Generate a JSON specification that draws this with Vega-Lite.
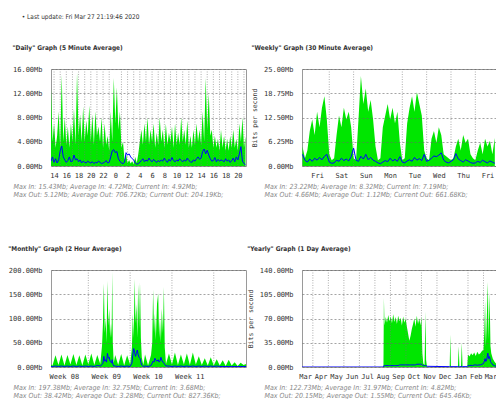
{
  "$schema": "https://vega.github.io/schema/vega-lite/v6.json",
  "background": "white",
  "padding": {"left": 7, "top": 13, "right": 6, "bottom": 0},
  "bounds": "flush",
  "columns": 2,
  "spacing": {"row": 104, "column": 56},
  "title": {"text": "•  Last update: Fri Mar 27 21:19:46 2020", "anchor": "start", "frame": "bounds", "dx": 14, "fontSize": 6.5, "fontWeight": "normal", "font": "Liberation Sans Narrow, DejaVu Sans Condensed, sans-serif", "color": "#333", "offset": 24},
  "config": {
    "view": {"stroke": "#9a9a9a", "strokeWidth": 1},
    "axis": {"labelFont": "DejaVu Sans Mono", "labelFontSize": 7, "labelColor": "#333", "labelOverlap": false, "labelBound": false, "labelFlush": false, "ticks": false, "domain": false, "titleFont": "Liberation Sans Narrow, DejaVu Sans Condensed, sans-serif", "titleFontSize": 7, "titleFontStyle": "italic", "titleFontWeight": "normal", "titleColor": "#888", "titleLineHeight": 8},
    "title": {"font": "Liberation Sans Narrow, DejaVu Sans Condensed, sans-serif", "fontSize": 6.5, "fontWeight": "bold", "color": "#333", "anchor": "start", "frame": "bounds", "offset": 14}
  },
  "datasets": {
    "daily": [
      {"x":13.5,"in":12.9,"out":0.8},{"x":13.75,"in":4,"out":1.5},{"x":14,"in":7.0,"out":0.6},{"x":14.25,"in":3,"out":1.2},{"x":14.5,"in":5,"out":0.5},{"x":14.75,"in":9.0,"out":1.0},
      {"x":15,"in":3,"out":2.5},{"x":15.25,"in":15.0,"out":3.3},{"x":15.5,"in":4,"out":1.5},{"x":15.75,"in":8.0,"out":1.0},
      {"x":16,"in":3.5,"out":0.6},{"x":16.25,"in":6.5,"out":0.9},{"x":16.5,"in":3,"out":1.5},{"x":16.75,"in":7.0,"out":0.7},
      {"x":17,"in":4,"out":0.8},{"x":17.25,"in":9.5,"out":1.8},{"x":17.5,"in":3.5,"out":1.0},{"x":17.75,"in":15.4,"out":1.2},
      {"x":18,"in":5,"out":0.7},{"x":18.25,"in":8.5,"out":1.0},{"x":18.5,"in":4,"out":0.5},{"x":18.75,"in":9.8,"out":0.8},
      {"x":19,"in":4,"out":0.6},{"x":19.25,"in":7.5,"out":0.5},{"x":19.5,"in":5,"out":0.8},{"x":19.75,"in":10.0,"out":0.6},
      {"x":20,"in":4,"out":0.5},{"x":20.25,"in":8.5,"out":0.7},{"x":20.5,"in":3.5,"out":0.4},{"x":20.75,"in":9.0,"out":0.6},
      {"x":21,"in":5,"out":0.5},{"x":21.25,"in":6.5,"out":0.8},{"x":21.5,"in":4,"out":0.6},{"x":21.75,"in":8.0,"out":0.4},
      {"x":22,"in":3,"out":0.5},{"x":22.25,"in":7.0,"out":0.6},{"x":22.5,"in":3.5,"out":0.9},{"x":22.75,"in":5.0,"out":0.5},
      {"x":23,"in":2.5,"out":0.6},{"x":23.25,"in":9.0,"out":1.5},{"x":23.5,"in":4,"out":2.5},{"x":23.75,"in":14.5,"out":2.7},
      {"x":24,"in":7,"out":2.2},{"x":24.25,"in":13.0,"out":2.4},{"x":24.5,"in":6,"out":1.2},{"x":24.75,"in":9.0,"out":0.8},
      {"x":25,"in":3,"out":0.5},{"x":25.25,"in":4.0,"out":0.4},{"x":25.5,"in":1.0,"out":0.6},{"x":25.75,"in":2.0,"out":2.2},
      {"x":26,"in":0.5,"out":1.8},{"x":26.25,"in":1.0,"out":2.0},{"x":26.5,"in":0.4,"out":1.5},{"x":26.75,"in":0.8,"out":1.2},
      {"x":27,"in":0.3,"out":1.0},{"x":27.25,"in":1.5,"out":0.5},{"x":27.5,"in":0.5,"out":0.3},{"x":27.75,"in":2,"out":0.4},
      {"x":28,"in":4.0,"out":0.6},{"x":28.25,"in":6.0,"out":0.9},{"x":28.5,"in":3.5,"out":1.2},{"x":28.75,"in":7.0,"out":0.7},
      {"x":29,"in":4,"out":1.0},{"x":29.25,"in":8.0,"out":0.8},{"x":29.5,"in":3.5,"out":1.3},{"x":29.75,"in":6.0,"out":0.9},
      {"x":30,"in":4,"out":0.7},{"x":30.25,"in":7.0,"out":1.1},{"x":30.5,"in":3,"out":0.8},{"x":30.75,"in":5.5,"out":0.6},
      {"x":31,"in":3.5,"out":0.9},{"x":31.25,"in":8.0,"out":0.7},{"x":31.5,"in":4,"out":1.0},{"x":31.75,"in":6.0,"out":0.8},
      {"x":32,"in":3,"out":1.3},{"x":32.25,"in":7.0,"out":0.9},{"x":32.5,"in":3.5,"out":0.6},{"x":32.75,"in":5.5,"out":1.1},
      {"x":33,"in":4,"out":0.8},{"x":33.25,"in":6.5,"out":1.4},{"x":33.5,"in":3,"out":0.9},{"x":33.75,"in":7.0,"out":0.7},
      {"x":34,"in":3.5,"out":1.0},{"x":34.25,"in":5.5,"out":0.8},{"x":34.5,"in":3.5,"out":1.2},{"x":34.75,"in":8.0,"out":0.9},
      {"x":35,"in":4,"out":0.7},{"x":35.25,"in":6.0,"out":1.0},{"x":35.5,"in":3.5,"out":0.8},{"x":35.75,"in":7.5,"out":1.3},
      {"x":36,"in":3,"out":0.9},{"x":36.25,"in":5,"out":0.7},{"x":36.5,"in":3,"out":0.6},{"x":36.75,"in":6.0,"out":1.0},
      {"x":37,"in":3.5,"out":0.8},{"x":37.25,"in":7.0,"out":1.2},{"x":37.5,"in":4,"out":1.5},{"x":37.75,"in":6.0,"out":1.1},
      {"x":38,"in":3.5,"out":1.3},{"x":38.25,"in":9.0,"out":2.4},{"x":38.5,"in":4,"out":2.8},{"x":38.75,"in":14.5,"out":2.0},
      {"x":39,"in":6,"out":2.6},{"x":39.25,"in":12.0,"out":1.8},{"x":39.5,"in":5,"out":1.2},{"x":39.75,"in":6.0,"out":0.8},
      {"x":40,"in":3,"out":0.9},{"x":40.25,"in":5.0,"out":1.4},{"x":40.5,"in":3,"out":0.7},{"x":40.75,"in":4.5,"out":1.1},
      {"x":41,"in":2.5,"out":0.8},{"x":41.25,"in":6.0,"out":1.0},{"x":41.5,"in":3,"out":0.9},{"x":41.75,"in":5.0,"out":0.7},
      {"x":42,"in":2.5,"out":1.2},{"x":42.25,"in":4.5,"out":0.8},{"x":42.5,"in":2.5,"out":1.0},{"x":42.75,"in":5.0,"out":0.6},
      {"x":43,"in":3,"out":0.9},{"x":43.25,"in":6.0,"out":1.3},{"x":43.5,"in":3,"out":0.7},{"x":43.75,"in":4.5,"out":1.5},
      {"x":44,"in":2.5,"out":1.0},{"x":44.25,"in":7.0,"out":2.0},{"x":44.5,"in":4,"out":3.2},{"x":44.75,"in":8.0,"out":0.8},
      {"x":45,"in":3,"out":0.4},{"x":45.25,"in":4.9,"out":0.2}
    ],
    "dailyGrid": [{"g":14},{"g":15},{"g":16},{"g":17},{"g":18},{"g":19},{"g":20},{"g":21},{"g":22},{"g":23},{"g":25},{"g":26},{"g":27},{"g":28},{"g":29},{"g":30},{"g":31},{"g":32},{"g":33},{"g":34},{"g":35},{"g":36},{"g":37},{"g":38},{"g":39},{"g":40},{"g":41},{"g":42},{"g":43},{"g":44},{"g":45}],
    "weekly": [
      {"x":0.9,"in":5,"out":3.0},{"x":1.0,"in":2,"out":1.5},{"x":1.1,"in":4,"out":1.0},{"x":1.2,"in":9,"out":1.8},{"x":1.3,"in":12,"out":1.2},{"x":1.4,"in":8,"out":2.0},{"x":1.5,"in":14,"out":1.5},{"x":1.6,"in":10,"out":2.2},{"x":1.7,"in":15,"out":1.6},{"x":1.8,"in":18,"out":2.5},{"x":1.9,"in":12,"out":3.0},
      {"x":2.0,"in":3,"out":1.0},{"x":2.1,"in":1.5,"out":0.7},{"x":2.2,"in":2,"out":0.8},{"x":2.3,"in":8,"out":1.5},{"x":2.4,"in":13,"out":1.2},{"x":2.5,"in":10,"out":2.0},{"x":2.6,"in":15,"out":1.4},{"x":2.7,"in":12,"out":1.8},{"x":2.8,"in":14,"out":1.3},{"x":2.9,"in":10,"out":2.4},
      {"x":3.0,"in":2,"out":4.6},{"x":3.1,"in":1.5,"out":1.5},{"x":3.2,"in":12,"out":1.2},{"x":3.3,"in":23.2,"out":2.5},{"x":3.4,"in":16,"out":1.8},{"x":3.5,"in":20,"out":3.0},{"x":3.6,"in":14,"out":1.6},{"x":3.7,"in":17,"out":2.2},{"x":3.8,"in":12,"out":1.5},{"x":3.9,"in":5,"out":1.2},
      {"x":4.0,"in":1.5,"out":0.8},{"x":4.1,"in":2,"out":0.6},{"x":4.2,"in":10,"out":1.0},{"x":4.3,"in":13,"out":1.4},{"x":4.4,"in":16,"out":1.1},{"x":4.5,"in":12,"out":2.0},{"x":4.6,"in":15,"out":1.3},{"x":4.7,"in":11,"out":1.7},{"x":4.8,"in":14,"out":1.2},{"x":4.9,"in":6,"out":2.4},
      {"x":5.0,"in":1.5,"out":1.0},{"x":5.1,"in":2,"out":0.8},{"x":5.2,"in":11,"out":1.3},{"x":5.3,"in":15,"out":1.6},{"x":5.4,"in":18,"out":1.2},{"x":5.5,"in":14,"out":2.2},{"x":5.6,"in":19,"out":1.5},{"x":5.7,"in":16,"out":1.9},{"x":5.8,"in":13,"out":1.4},{"x":5.9,"in":4,"out":3.0},
      {"x":6.0,"in":2,"out":1.2},{"x":6.1,"in":1.5,"out":1.5},{"x":6.2,"in":7,"out":2.0},{"x":6.3,"in":9,"out":2.6},{"x":6.4,"in":6,"out":2.4},{"x":6.5,"in":10,"out":2.8},{"x":6.6,"in":8,"out":3.4},{"x":6.7,"in":3,"out":1.5},{"x":6.8,"in":2.5,"out":1.0},{"x":6.9,"in":2,"out":0.8},
      {"x":7.0,"in":1.5,"out":1.2},{"x":7.1,"in":2,"out":1.6},{"x":7.2,"in":5,"out":3.2},{"x":7.3,"in":7,"out":1.8},{"x":7.4,"in":4,"out":1.4},{"x":7.5,"in":8,"out":1.0},{"x":7.6,"in":6,"out":1.6},{"x":7.7,"in":7,"out":1.3},{"x":7.8,"in":3,"out":0.9},{"x":7.9,"in":2,"out":0.7},
      {"x":8.0,"in":1.5,"out":0.8},{"x":8.1,"in":4,"out":1.2},{"x":8.2,"in":6,"out":0.9},{"x":8.3,"in":3,"out":1.5},{"x":8.4,"in":7,"out":1.1},{"x":8.5,"in":5,"out":0.8},{"x":8.6,"in":6.5,"out":1.3},{"x":8.7,"in":3,"out":1.0},{"x":8.8,"in":7.2,"out":0.7}
    ],
    "weeklyGrid": [{"g":2},{"g":3},{"g":5},{"g":6},{"g":7},{"g":8}],
    "monthly": [
      {"x":-5.25,"in":5,"out":1},{"x":-5.0,"in":3,"out":1},{"x":-4.5,"in":24,"out":2},{"x":-4.0,"in":4,"out":1},{"x":-3.5,"in":26,"out":2},{"x":-3.0,"in":3,"out":1},{"x":-2.5,"in":25,"out":2},{"x":-2.0,"in":5,"out":1},{"x":-1.5,"in":27,"out":2},{"x":-1.0,"in":4,"out":1},{"x":-0.5,"in":24,"out":2},
      {"x":0.0,"in":3,"out":1},{"x":0.5,"in":26,"out":2},{"x":1.0,"in":5,"out":1},{"x":1.5,"in":28,"out":2},{"x":2.0,"in":4,"out":1},{"x":2.5,"in":25,"out":3},{"x":3.0,"in":6,"out":2},
      {"x":3.3,"in":45,"out":5},{"x":3.45,"in":90,"out":8},{"x":3.6,"in":172,"out":22},{"x":3.75,"in":70,"out":12},{"x":3.9,"in":100,"out":15},{"x":4.05,"in":50,"out":10},{"x":4.2,"in":178,"out":28},{"x":4.35,"in":85,"out":18},{"x":4.5,"in":120,"out":20},{"x":4.65,"in":60,"out":12},{"x":4.8,"in":90,"out":10},{"x":4.9,"in":60,"out":8},{"x":5.0,"in":197,"out":15},{"x":5.1,"in":50,"out":6},{"x":5.25,"in":8,"out":2},
      {"x":5.5,"in":25,"out":2},{"x":6.0,"in":4,"out":1},{"x":6.5,"in":27,"out":2},{"x":7.0,"in":3,"out":1},{"x":7.5,"in":24,"out":2},{"x":8.0,"in":5,"out":1},
      {"x":8.3,"in":40,"out":8},{"x":8.45,"in":110,"out":25},{"x":8.6,"in":60,"out":38},{"x":8.75,"in":182,"out":30},{"x":8.9,"in":90,"out":22},{"x":9.05,"in":130,"out":28},{"x":9.2,"in":60,"out":35},{"x":9.35,"in":170,"out":25},{"x":9.5,"in":80,"out":20},{"x":9.65,"in":175,"out":18},{"x":9.8,"in":60,"out":10},{"x":9.95,"in":20,"out":4},
      {"x":10.2,"in":4,"out":1},{"x":10.5,"in":26,"out":2},{"x":11.0,"in":3,"out":1},{"x":11.5,"in":25,"out":3},
      {"x":11.7,"in":50,"out":8},{"x":11.85,"in":160,"out":12},{"x":12.0,"in":70,"out":10},{"x":12.15,"in":110,"out":18},{"x":12.3,"in":55,"out":14},{"x":12.5,"in":130,"out":12},{"x":12.7,"in":152,"out":15},{"x":12.85,"in":60,"out":10},{"x":13.0,"in":100,"out":12},{"x":13.15,"in":50,"out":20},{"x":13.3,"in":120,"out":14},{"x":13.5,"in":70,"out":10},{"x":13.65,"in":165,"out":8},{"x":13.8,"in":40,"out":5},
      {"x":14.0,"in":6,"out":2},{"x":14.5,"in":28,"out":2},{"x":15.0,"in":5,"out":1},{"x":15.5,"in":30,"out":2},{"x":16.0,"in":4,"out":1},{"x":16.5,"in":26,"out":2},{"x":17.0,"in":5,"out":1},{"x":17.5,"in":28,"out":2},{"x":18.0,"in":4,"out":1},{"x":18.5,"in":30,"out":2},{"x":19.0,"in":5,"out":1},{"x":19.5,"in":22,"out":2},{"x":20.0,"in":4,"out":1},{"x":20.5,"in":18,"out":2},{"x":21.0,"in":3,"out":1},{"x":21.5,"in":20,"out":2},{"x":22.0,"in":3,"out":1},{"x":22.5,"in":16,"out":2},{"x":23.0,"in":3,"out":1},{"x":23.5,"in":14,"out":1},{"x":24.0,"in":2,"out":1},{"x":24.5,"in":15,"out":1},{"x":25.0,"in":3,"out":1},{"x":25.5,"in":10,"out":1},{"x":26.0,"in":2,"out":1},{"x":26.5,"in":9,"out":1},{"x":27.0,"in":4,"out":1},{"x":27.4,"in":6,"out":1}
    ],
    "monthlyGrid": [{"g":1},{"g":8},{"g":15},{"g":22}],
    "yearly": [
      {"x":2.3,"in":0,"out":0},{"x":7.55,"in":0,"out":0},{"x":7.58,"in":100,"out":2},{"x":7.62,"in":60,"out":2},{"x":7.7,"in":72,"out":2},{"x":7.78,"in":64,"out":2},{"x":7.86,"in":75,"out":2},{"x":7.94,"in":66,"out":2},
      {"x":8.02,"in":73,"out":2},{"x":8.1,"in":63,"out":2},{"x":8.18,"in":76,"out":2},{"x":8.26,"in":65,"out":2},{"x":8.34,"in":72,"out":2},{"x":8.42,"in":62,"out":2},{"x":8.5,"in":74,"out":2},{"x":8.58,"in":66,"out":3},{"x":8.66,"in":71,"out":3},{"x":8.74,"in":60,"out":3},{"x":8.82,"in":73,"out":3},{"x":8.9,"in":64,"out":3},{"x":8.98,"in":70,"out":3},
      {"x":9.06,"in":58,"out":3},{"x":9.14,"in":48,"out":3},{"x":9.22,"in":38,"out":3},{"x":9.3,"in":45,"out":3},{"x":9.38,"in":55,"out":3},{"x":9.46,"in":62,"out":3},{"x":9.54,"in":70,"out":3},{"x":9.62,"in":58,"out":3},{"x":9.7,"in":74,"out":4},{"x":9.78,"in":62,"out":4},{"x":9.86,"in":70,"out":4},{"x":9.94,"in":60,"out":4},
      {"x":10.0,"in":73,"out":4},{"x":10.06,"in":20,"out":3},{"x":10.12,"in":5,"out":2},{"x":10.2,"in":3,"out":2},{"x":10.26,"in":80,"out":2},{"x":10.3,"in":10,"out":2},{"x":10.36,"in":0,"out":1},
      {"x":11.82,"in":0,"out":0.5},{"x":11.86,"in":47,"out":1},{"x":11.9,"in":0,"out":0.5},{"x":12.35,"in":0,"out":0.5},{"x":12.4,"in":30,"out":1},{"x":12.45,"in":0,"out":0.5},{"x":12.55,"in":0,"out":0.5},{"x":12.6,"in":35,"out":1},{"x":12.65,"in":0,"out":0.5},{"x":12.95,"in":0,"out":0.5},
      {"x":13.0,"in":18,"out":2},{"x":13.1,"in":15,"out":2},{"x":13.2,"in":20,"out":2.5},{"x":13.3,"in":17,"out":2},{"x":13.4,"in":21,"out":3},{"x":13.5,"in":16,"out":3},{"x":13.6,"in":22,"out":2.5},{"x":13.7,"in":18,"out":3},{"x":13.8,"in":20,"out":3},{"x":13.9,"in":23,"out":4},
      {"x":14.0,"in":25,"out":5},{"x":14.05,"in":50,"out":8},{"x":14.1,"in":95,"out":12},{"x":14.15,"in":30,"out":8},{"x":14.2,"in":60,"out":10},{"x":14.28,"in":122.7,"out":20},{"x":14.33,"in":40,"out":12},{"x":14.39,"in":108,"out":15},{"x":14.45,"in":30,"out":8},{"x":14.5,"in":20,"out":6},{"x":14.6,"in":12,"out":3},{"x":14.7,"in":8,"out":2},{"x":14.8,"in":5,"out":1},{"x":14.87,"in":4.8,"out":0.6}
    ],
    "yearlyGrid": [{"g":3},{"g":4},{"g":5},{"g":6},{"g":7},{"g":8},{"g":9},{"g":10},{"g":11},{"g":13},{"g":14}]
  },
  "concat": [
    {
      "title": {"text": "\"Daily\" Graph (5 Minute Average)"},
      "width": 195, "height": 97,
      "layer": [
        {"data": {"name": "daily"}, "mark": {"type": "area", "color": "#00e600", "clip": true},
         "encoding": {
           "x": {"field": "x", "type": "quantitative", "scale": {"domain": [13.5, 45.33], "nice": false, "zero": false},
                 "axis": {"values": [14,16,18,20,22,24,26,28,30,32,34,36,38,40,42,44], "tickCount": 100, "labelExpr": "datum.value % 24", "labelOverlap": false, "grid": false, "labelPadding": 5,
                          "title": ["Max In: 15.43Mb; Average In: 4.72Mb; Current In: 4.92Mb;", "Max Out: 5.12Mb; Average Out: 706.72Kb; Current Out: 204.19Kb;"],
                          "titleX": -38, "titleY": 16, "titleAlign": "left", "titleBaseline": "top", "titleAnchor": "start"}},
           "y": {"field": "in", "type": "quantitative", "scale": {"domain": [0, 16], "nice": false},
                 "axis": {"values": [0,4,8,12,16], "tickCount": 100, "labelExpr": "format(datum.value, '.2f') + 'Mb'", "labelOverlap": false, "grid": true, "gridDash": [2,2], "gridColor": "#666", "gridWidth": 0.6, "labelPadding": 9, "title": null, "zindex": 1}}
         }},
        {"data": {"name": "dailyGrid"}, "mark": {"type": "rule", "color": "#777", "strokeDash": [1,1.5], "strokeWidth": 0.6}, "encoding": {"x": {"field": "g", "type": "quantitative"}}},
        {"data": {"name": "daily"}, "mark": {"type": "line", "color": "#0000ff", "strokeWidth": 1, "clip": true}, "encoding": {"x": {"field": "x", "type": "quantitative"}, "y": {"field": "out", "type": "quantitative"}}},
        {"mark": {"type": "rule", "color": "#ff0000", "strokeWidth": 1}, "encoding": {"x": {"datum": 24, "type": "quantitative"}}}
      ]
    },
    {
      "title": {"text": "\"Weekly\" Graph (30 Minute Average)"},
      "width": 195, "height": 97,
      "layer": [
        {"data": {"name": "weekly"}, "mark": {"type": "area", "color": "#00e600", "clip": true},
         "encoding": {
           "x": {"field": "x", "type": "quantitative", "scale": {"domain": [0.88, 8.89], "nice": false, "zero": false},
                 "axis": {"values": [1.5,2.5,3.5,4.5,5.5,6.5,7.5,8.5], "tickCount": 100, "labelExpr": "['Thu','Fri','Sat','Sun','Mon','Tue','Wed','Thu','Fri'][floor(datum.value)]", "labelOverlap": false, "grid": false, "labelPadding": 5,
                          "title": ["Max In: 23.22Mb; Average In: 8.32Mb; Current In: 7.19Mb;", "Max Out: 4.66Mb; Average Out: 1.12Mb; Current Out: 661.68Kb;"],
                          "titleX": -38, "titleY": 16, "titleAlign": "left", "titleBaseline": "top", "titleAnchor": "start"}},
           "y": {"field": "in", "type": "quantitative", "scale": {"domain": [0, 25], "nice": false},
                 "axis": {"values": [0,6.25,12.5,18.75,25], "tickCount": 100, "labelExpr": "format(datum.value, '.2f') + 'Mb'", "labelOverlap": false, "grid": true, "gridDash": [2,2], "gridColor": "#666", "gridWidth": 0.6, "labelPadding": 9, "zindex": 1,
                          "title": "Bits per second", "titleFont": "DejaVu Sans Mono", "titleFontStyle": "normal", "titleFontSize": 6.5, "titleColor": "#333", "titlePadding": 6}}
         }},
        {"data": {"name": "weeklyGrid"}, "mark": {"type": "rule", "color": "#777", "strokeDash": [1,1.5], "strokeWidth": 0.6}, "encoding": {"x": {"field": "g", "type": "quantitative"}}},
        {"data": {"name": "weekly"}, "mark": {"type": "line", "color": "#0000ff", "strokeWidth": 1, "clip": true}, "encoding": {"x": {"field": "x", "type": "quantitative"}, "y": {"field": "out", "type": "quantitative"}}},
        {"mark": {"type": "rule", "color": "#ff0000", "strokeWidth": 1}, "encoding": {"x": {"datum": 4, "type": "quantitative"}}}
      ]
    },
    {
      "title": {"text": "\"Monthly\" Graph (2 Hour Average)"},
      "width": 195, "height": 97,
      "layer": [
        {"data": {"name": "monthly"}, "mark": {"type": "area", "color": "#00e600", "clip": true},
         "encoding": {
           "x": {"field": "x", "type": "quantitative", "scale": {"domain": [-5.25, 27.4], "nice": false, "zero": false},
                 "axis": {"values": [-3.1, 3.9, 10.9, 17.9], "tickCount": 100, "labelExpr": "datum.value < 0 ? 'Week 08' : datum.value < 7 ? 'Week 09' : datum.value < 14 ? 'Week 10' : 'Week 11'", "labelOverlap": false, "grid": false, "labelPadding": 5,
                          "title": ["Max In: 197.38Mb; Average In: 32.75Mb; Current In: 3.68Mb;", "Max Out: 38.42Mb; Average Out: 3.28Mb; Current Out: 827.36Kb;"],
                          "titleX": -38, "titleY": 16, "titleAlign": "left", "titleBaseline": "top", "titleAnchor": "start"}},
           "y": {"field": "in", "type": "quantitative", "scale": {"domain": [0, 200], "nice": false},
                 "axis": {"values": [0,50,100,150,200], "tickCount": 100, "labelExpr": "format(datum.value, '.2f') + 'Mb'", "labelOverlap": false, "grid": true, "gridDash": [2,2], "gridColor": "#666", "gridWidth": 0.6, "labelPadding": 9, "title": null, "zindex": 1}}
         }},
        {"data": {"name": "monthlyGrid"}, "mark": {"type": "rule", "color": "#777", "strokeDash": [1,1.5], "strokeWidth": 0.6}, "encoding": {"x": {"field": "g", "type": "quantitative"}}},
        {"data": {"name": "monthly"}, "mark": {"type": "line", "color": "#0000ff", "strokeWidth": 1, "clip": true}, "encoding": {"x": {"field": "x", "type": "quantitative"}, "y": {"field": "out", "type": "quantitative"}}},
        {"mark": {"type": "rule", "color": "#ff0000", "strokeWidth": 1}, "encoding": {"x": {"datum": 0, "type": "quantitative"}}}
      ]
    },
    {
      "title": {"text": "\"Yearly\" Graph (1 Day Average)"},
      "width": 195, "height": 97,
      "layer": [
        {"data": {"name": "yearly"}, "mark": {"type": "area", "color": "#00e600", "clip": true},
         "encoding": {
           "x": {"field": "x", "type": "quantitative", "scale": {"domain": [2.3, 14.87], "nice": false, "zero": false},
                 "axis": {"values": [2.5,3.5,4.5,5.5,6.5,7.5,8.5,9.5,10.5,11.5,12.5,13.5,14.45], "tickCount": 100, "labelExpr": "['Jan','Feb','Mar','Apr','May','Jun','Jul','Aug','Sep','Oct','Nov','Dec'][floor(datum.value) % 12]", "labelOverlap": false, "grid": false, "labelPadding": 5,
                          "title": ["Max In: 122.73Mb; Average In: 31.97Mb; Current In: 4.82Mb;", "Max Out: 20.15Mb; Average Out: 1.55Mb; Current Out: 645.46Kb;"],
                          "titleX": -38, "titleY": 16, "titleAlign": "left", "titleBaseline": "top", "titleAnchor": "start"}},
           "y": {"field": "in", "type": "quantitative", "scale": {"domain": [0, 140], "nice": false},
                 "axis": {"values": [0,35,70,105,140], "tickCount": 100, "labelExpr": "format(datum.value, '.2f') + 'Mb'", "labelOverlap": false, "grid": true, "gridDash": [2,2], "gridColor": "#666", "gridWidth": 0.6, "labelPadding": 9, "zindex": 1,
                          "title": "Bits per second", "titleFont": "DejaVu Sans Mono", "titleFontStyle": "normal", "titleFontSize": 6.5, "titleColor": "#333", "titlePadding": 6}}
         }},
        {"data": {"name": "yearlyGrid"}, "mark": {"type": "rule", "color": "#777", "strokeDash": [1,1.5], "strokeWidth": 0.6}, "encoding": {"x": {"field": "g", "type": "quantitative"}}},
        {"data": {"name": "yearly"}, "mark": {"type": "line", "color": "#0000ff", "strokeWidth": 1, "clip": true}, "encoding": {"x": {"field": "x", "type": "quantitative"}, "y": {"field": "out", "type": "quantitative"}}},
        {"mark": {"type": "rule", "color": "#ff0000", "strokeWidth": 1}, "encoding": {"x": {"datum": 12, "type": "quantitative"}}}
      ]
    }
  ]
}
